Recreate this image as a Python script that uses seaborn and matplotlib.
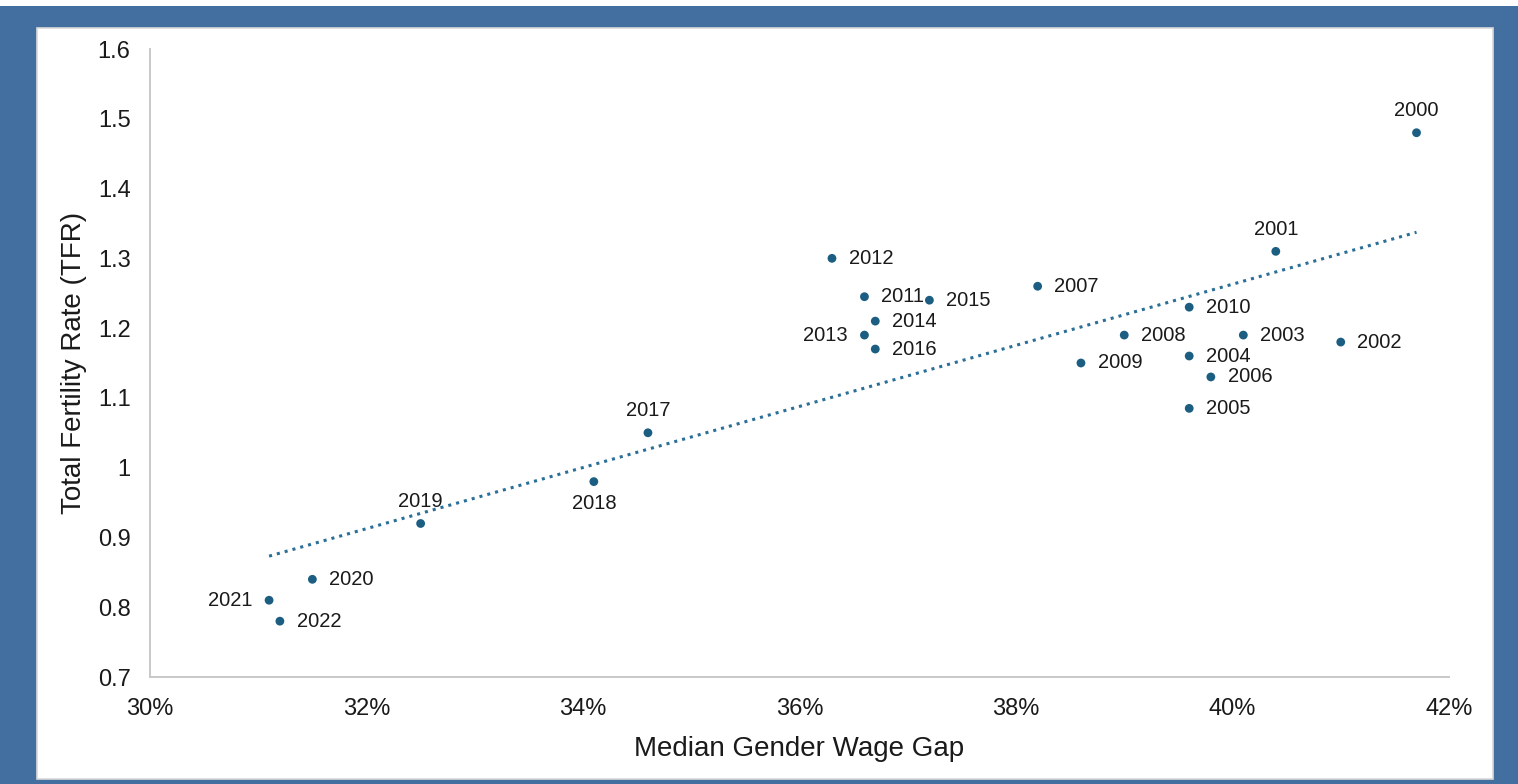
import matplotlib
matplotlib.use('Agg')
import matplotlib.pyplot as plt
from matplotlib.patches import Rectangle
from matplotlib.ticker import FuncFormatter
import seaborn as sns
import pandas as pd

# data: median gender wage gap (%) and TFR per year
years = [2000, 2001, 2002, 2003, 2004, 2005, 2006, 2007, 2008, 2009, 2010, 2011,
         2012, 2013, 2014, 2015, 2016, 2017, 2018, 2019, 2020, 2021, 2022]
wage_gap = [41.7, 40.4, 41.0, 40.1, 39.6, 39.6, 39.8, 38.2, 39.0, 38.6, 39.6, 36.6,
            36.3, 36.6, 36.7, 37.2, 36.7, 34.6, 34.1, 32.5, 31.5, 31.1, 31.2]
tfr = [1.48, 1.31, 1.18, 1.19, 1.16, 1.085, 1.13, 1.26, 1.19, 1.15, 1.23, 1.245,
       1.30, 1.19, 1.21, 1.24, 1.17, 1.05, 0.98, 0.92, 0.84, 0.81, 0.78]
# where each year label sits relative to its point
label_side = {2000: 'above', 2001: 'above', 2017: 'above', 2019: 'above',
              2018: 'below', 2013: 'left', 2021: 'left'}

df = pd.DataFrame({'year': years, 'gap': wage_gap, 'tfr': tfr})

point_color = '#1b5e82'
frame_blue = '#436ea0'

sns.set_style('white')
plt.rcParams['font.family'] = ['Liberation Sans', 'DejaVu Sans']

fig = plt.figure(figsize=(15.18, 7.84), dpi=100)
fig.patch.set_facecolor('white')
# blue frame with white card inside
fig.patches.append(Rectangle((0, 0), 1, 778 / 784, transform=fig.transFigure,
                             facecolor=frame_blue, edgecolor='none', zorder=-3))
fig.patches.append(Rectangle((37 / 1518, 5 / 784), 1456 / 1518, 751 / 784,
                             transform=fig.transFigure, facecolor='white',
                             edgecolor='#d9d9d9', linewidth=1.2, zorder=-2))

ax = fig.add_axes([150 / 1518, 107 / 784, 1299 / 1518, 628 / 784])
ax.set_facecolor('none')

sns.regplot(data=df, x='gap', y='tfr', scatter=False, ci=None, truncate=True, ax=ax,
            line_kws=dict(color='#2a6f97', linestyle=':', linewidth=2.2))
sns.scatterplot(data=df, x='gap', y='tfr', color=point_color, s=40,
                edgecolor='none', ax=ax, zorder=3)

for yr, gx, ty in zip(years, wage_gap, tfr):
    side = label_side.get(yr, 'right')
    if side == 'right':
        off, ha, va = (12, 0), 'left', 'center'
    elif side == 'left':
        off, ha, va = (-12, 0), 'right', 'center'
    elif side == 'above':
        off, ha, va = (0, 9), 'center', 'bottom'
    else:
        off, ha, va = (0, -9), 'center', 'top'
    ax.annotate(str(yr), (gx, ty), xytext=off, textcoords='offset points',
                ha=ha, va=va, fontsize=14.5, color='#1a1a1a')

ax.set_xlim(30, 42)
ax.set_ylim(0.7, 1.6)
ax.set_xticks(range(30, 43, 2))
ax.set_yticks([0.7, 0.8, 0.9, 1.0, 1.1, 1.2, 1.3, 1.4, 1.5, 1.6])
ax.xaxis.set_major_formatter(FuncFormatter(lambda v, p: f'{v:.0f}%'))
ax.yaxis.set_major_formatter(FuncFormatter(lambda v, p: f'{v:g}'))
ax.tick_params(axis='both', length=0, labelsize=17, colors='#1a1a1a')
ax.tick_params(axis='y', pad=14)
ax.tick_params(axis='x', pad=15)

for s in ['top', 'right']:
    ax.spines[s].set_visible(False)
for s in ['left', 'bottom']:
    ax.spines[s].set_color('#c8c8c8')
    ax.spines[s].set_linewidth(1.4)

ax.set_xlabel('Median Gender Wage Gap', fontsize=20, color='#1a1a1a', labelpad=12)
ax.set_ylabel('Total Fertility Rate (TFR)', fontsize=20, color='#1a1a1a', labelpad=8)

fig.savefig('out.png', dpi=100)
